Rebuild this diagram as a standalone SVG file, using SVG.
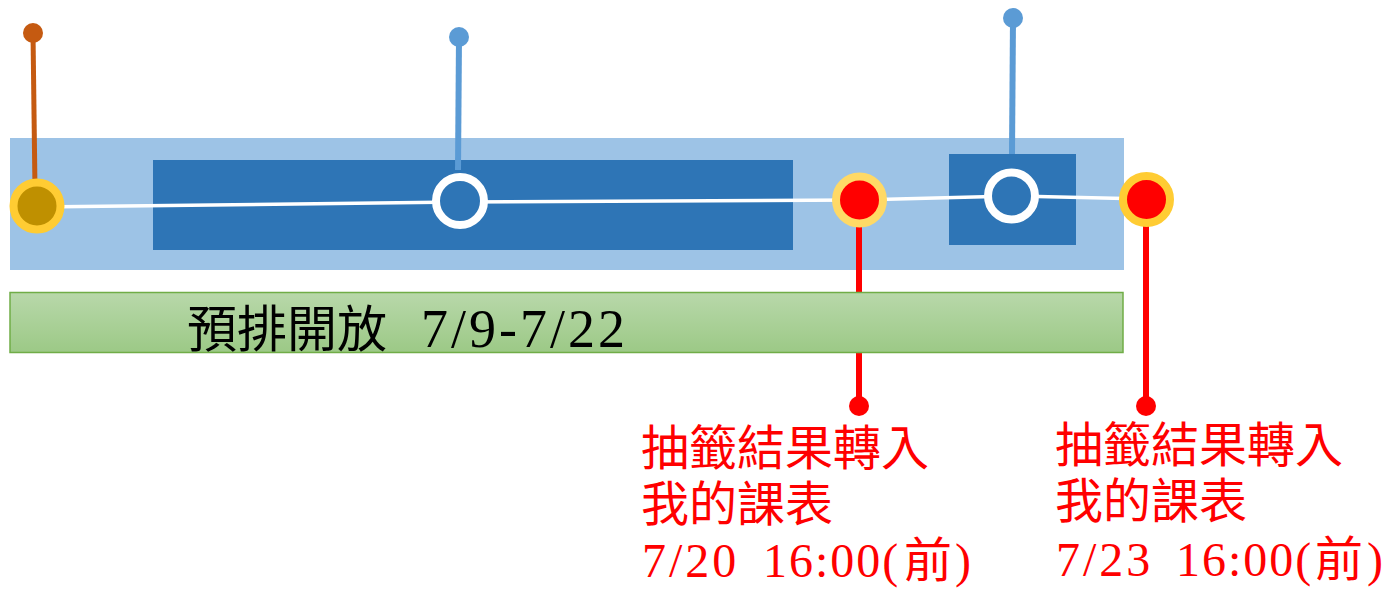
<svg xmlns="http://www.w3.org/2000/svg" width="1391" height="591" viewBox="0 0 1391 591">
  <defs>
    <linearGradient id="greenGrad" x1="0" y1="0" x2="0" y2="1">
      <stop offset="0" stop-color="#B8D8AA"/>
      <stop offset="1" stop-color="#9CC986"/>
    </linearGradient>
    <style>
      .band { fill: #9DC3E6; }
      .dark { fill: #2E75B6; }
      .stem-blue { stroke: #5B9BD5; stroke-width: 6; fill: none; }
      .stem-orange { stroke: #C55A11; stroke-width: 5; fill: none; }
      .stem-red { stroke: #FF0000; stroke-width: 6; fill: none; }
      .dot-blue { fill: #5B9BD5; }
      .dot-orange { fill: #C55A11; }
      .dot-red { fill: #FF0000; }
      .timeline { stroke: #FFFFFF; stroke-width: 3.5; fill: none; }
      .ring-white { fill: #2E75B6; stroke: #FFFFFF; stroke-width: 8; }
      .ring-gold { fill: #BF9000; stroke: #FFCC33; stroke-width: 8; }
      .ring-red { fill: #FF0000; stroke: #FFCC33; stroke-width: 8; }
      .ring-red-pale { fill: #FF0000; stroke: #FFD966; stroke-width: 8; }
      .cjk { font-family: "Noto Sans CJK TC", "Noto Sans CJK SC", sans-serif; }
      .num { font-family: "Liberation Serif", "Noto Sans CJK TC", serif; }
      .red-label { fill: #FF0000; font-size: 48px; }
      .green-label { fill: #000000; font-size: 50px; }
    </style>
  </defs>

  <g id="band">
    <rect class="band" x="10" y="138" width="1114" height="132"/>
  </g>
  <g id="phase1">
    <rect class="dark" x="153" y="160" width="640" height="90"/>
  </g>
  <g id="phase2">
    <rect class="dark" x="949" y="154" width="127" height="91"/>
  </g>

  <g id="connectors">
    <line class="stem-orange" x1="33" y1="33" x2="35" y2="190"/>
    <line class="stem-blue" x1="459" y1="37" x2="458" y2="170"/>
    <line class="stem-blue" x1="1013" y1="18" x2="1012" y2="154"/>
    <line class="stem-red" x1="859" y1="200" x2="859" y2="406"/>
    <line class="stem-red" x1="1146" y1="200" x2="1146" y2="406"/>
    <polyline class="timeline" points="37,207 459,202 859,200 1012,196 1146,199"/>
  </g>

  <g id="dots">
    <circle class="dot-orange" cx="33" cy="33" r="10"/>
    <circle class="dot-blue" cx="459" cy="37" r="10"/>
    <circle class="dot-blue" cx="1013" cy="18" r="10"/>
    <circle class="dot-red" cx="859" cy="406" r="10"/>
    <circle class="dot-red" cx="1146" cy="406" r="10"/>
  </g>

  <g id="node-start">
    <circle class="ring-gold" cx="37" cy="206" r="23.5"/>
  </g>
  <g id="node-mid1">
    <circle class="ring-white" cx="460" cy="201" r="24"/>
  </g>
  <g id="node-draw1">
    <circle class="ring-red-pale" cx="859.5" cy="200" r="23.5"/>
  </g>
  <g id="node-mid2">
    <circle class="ring-white" cx="1011.5" cy="196" r="23.5"/>
  </g>
  <g id="node-draw2">
    <circle class="ring-red" cx="1146.5" cy="199.5" r="23.5"/>
  </g>

  <g id="preschedule-bar">
    <rect x="10" y="292.5" width="1113" height="60" fill="url(#greenGrad)" stroke="#70AD47" stroke-width="1.5"/>
    <text class="green-label" y="347"><tspan class="cjk" x="187">預排開放</tspan><tspan class="num" x="421" font-size="54" letter-spacing="3">7/9-7/22</tspan></text>
  </g>

  <g id="label-draw1">
    <text class="red-label"><tspan class="cjk" x="641" y="465">抽籤結果轉入</tspan><tspan class="cjk" x="641" y="521">我的課表</tspan><tspan class="num" x="642" y="577" letter-spacing="3">7/20</tspan><tspan class="num" x="763" y="577" letter-spacing="2">16:00(</tspan><tspan class="cjk" x="904" y="577">前</tspan><tspan class="num" x="955" y="577">)</tspan></text>
  </g>

  <g id="label-draw2">
    <text class="red-label"><tspan class="cjk" x="1055" y="462">抽籤結果轉入</tspan><tspan class="cjk" x="1055" y="518">我的課表</tspan><tspan class="num" x="1056" y="576" letter-spacing="3">7/23</tspan><tspan class="num" x="1176" y="576" letter-spacing="2">16:00(</tspan><tspan class="cjk" x="1315" y="576">前</tspan><tspan class="num" x="1367" y="576">)</tspan></text>
  </g>
</svg>
